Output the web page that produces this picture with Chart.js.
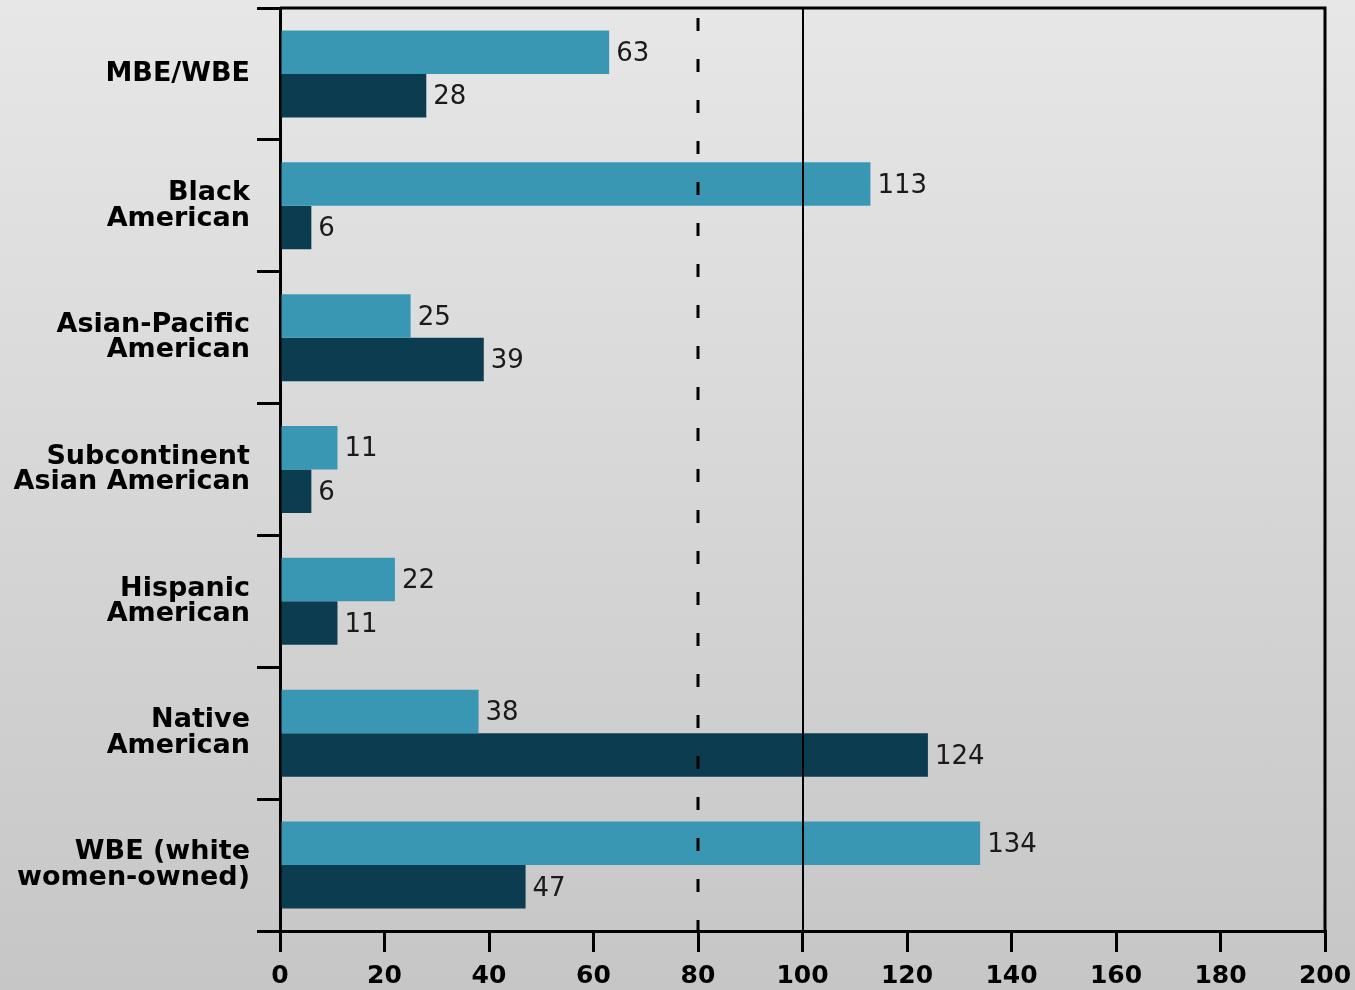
<!DOCTYPE html>
<html>
<head>
<meta charset="utf-8">
<script src="https://cdn.jsdelivr.net/npm/chart.js@4"></script>
<style>
  html, body { margin: 0; padding: 0; }
  body {
    width: 1355px; height: 990px;
    background: linear-gradient(to bottom, #e7e7e7 0%, #c6c6c6 100%);
  }
  #wrap { position: relative; width: 1355px; height: 990px; }
  canvas { display: block; }
</style>
</head>
<body>
<div id="wrap"><canvas id="chart" width="1355" height="990"></canvas></div>
<script>
const categories = [
  ['MBE/WBE'],
  ['Black', 'American'],
  ['Asian-Pacific', 'American'],
  ['Subcontinent', 'Asian American'],
  ['Hispanic', 'American'],
  ['Native', 'American'],
  ['WBE (white', 'women-owned)']
];
const seriesA = [63, 113, 25, 11, 22, 38, 134];
const seriesB = [28, 6, 39, 6, 11, 124, 47];
const xTicks = [0, 20, 40, 60, 80, 100, 120, 140, 160, 180, 200];
const refDashed = 80;
const refSolid = 100;

const FONT = "'DejaVu Sans', Verdana, sans-serif";

// reference lines, frame and value labels
const extras = {
  id: 'extras',
  beforeDatasetsDraw(chart) {
    const { ctx, chartArea: a } = chart;
    ctx.save();
    ctx.strokeStyle = '#000';
    ctx.lineWidth = 3;
    // top and right frame
    ctx.beginPath();
    ctx.moveTo(a.left, a.top);
    ctx.lineTo(a.right, a.top);
    ctx.lineTo(a.right, a.bottom);
    ctx.stroke();
    ctx.restore();
  },
  afterDatasetsDraw(chart) {
    const { ctx, chartArea: a, scales: { x } } = chart;
    ctx.save();
    ctx.strokeStyle = '#000';
    ctx.lineWidth = 3;
    const xd = Math.round(x.getPixelForValue(refDashed));
    ctx.setLineDash([13, 28]);
    ctx.beginPath();
    ctx.moveTo(xd, a.top + 10);
    ctx.lineTo(xd, a.bottom);
    ctx.stroke();
    ctx.setLineDash([]);
    ctx.lineWidth = 2;
    const xs = Math.round(x.getPixelForValue(refSolid));
    ctx.beginPath();
    ctx.moveTo(xs, a.top);
    ctx.lineTo(xs, a.bottom);
    ctx.stroke();

    ctx.fillStyle = '#1a1a1a';
    ctx.font = '26px ' + FONT;
    ctx.textBaseline = 'middle';
    ctx.textAlign = 'left';
    chart.data.datasets.forEach((ds, i) => {
      chart.getDatasetMeta(i).data.forEach((bar, j) => {
        ctx.fillText(String(ds.data[j]), bar.x + 7, bar.y + 2);
      });
    });
    ctx.restore();
  }
};

new Chart(document.getElementById('chart'), {
  type: 'bar',
  data: {
    labels: categories,
    datasets: [
      { data: seriesA, backgroundColor: '#3a97b4', borderWidth: 0 },
      { data: seriesB, backgroundColor: '#0b3c50', borderWidth: 0 }
    ]
  },
  options: {
    indexAxis: 'y',
    responsive: false,
    animation: false,
    devicePixelRatio: 1,
    layout: { padding: { top: 8, right: 30, left: 0, bottom: 0 } },
    datasets: { bar: { categoryPercentage: 0.66, barPercentage: 1.0 } },
    plugins: { legend: { display: false }, tooltip: { enabled: false } },
    scales: {
      x: {
        min: 0, max: 200,
        afterBuildTicks(scale) { scale.ticks = xTicks.map(v => ({ value: v })); },
        afterFit(scale) { scale.height = 59; scale.paddingLeft = 0; scale.paddingRight = 0; },
        grid: { drawOnChartArea: false, drawTicks: true, tickLength: 21, color: '#000', lineWidth: 3 },
        border: { display: true, color: '#000', width: 3 },
        ticks: { color: '#000', font: { family: FONT, size: 25, weight: 'bold' }, padding: 9, maxRotation: 0 }
      },
      y: {
        afterFit(scale) { scale.width = 280; scale.paddingTop = 0; scale.paddingBottom = 0; },
        grid: { drawOnChartArea: false, drawTicks: true, tickLength: 23, color: '#000', lineWidth: 3, offset: true },
        border: { display: true, color: '#000', width: 3 },
        ticks: { color: '#000', font: { family: FONT, size: 27, weight: 'bold', lineHeight: 0.95 }, padding: 7 }
      }
    }
  },
  plugins: [extras]
});
</script>
</body>
</html>
